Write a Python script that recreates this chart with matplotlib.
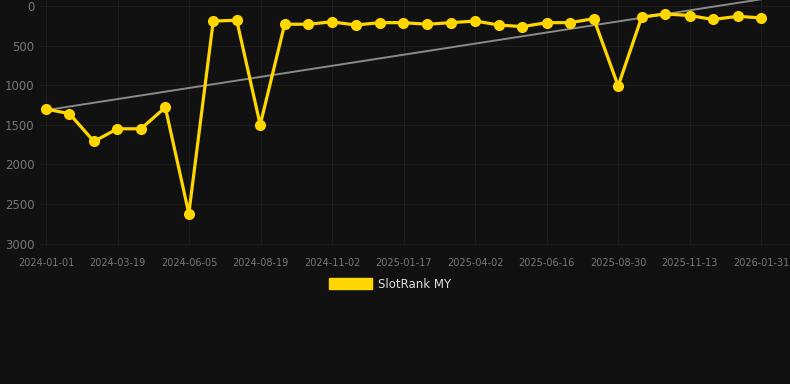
import numpy as np
import pandas as pd
import matplotlib
matplotlib.use('Agg')
import matplotlib.pyplot as plt
import matplotlib.dates as mdates
from matplotlib.patches import Patch

# SlotRank MY rank history (lower is better, axis inverted)
dates = ['2024-01-01', '2024-01-26', '2024-02-21', '2024-03-17', '2024-04-11',
         '2024-05-07', '2024-06-01', '2024-06-27', '2024-07-22', '2024-08-16',
         '2024-09-11', '2024-10-06', '2024-10-31', '2024-11-26', '2024-12-21',
         '2025-01-15', '2025-02-10', '2025-03-07', '2025-04-02', '2025-04-27',
         '2025-05-22', '2025-06-17', '2025-07-12', '2025-08-06', '2025-09-01',
         '2025-09-26', '2025-10-21', '2025-11-16', '2025-12-11', '2026-01-06',
         '2026-01-31']
ranks = [1300, 1360, 1710, 1550, 1550, 1280, 2620, 190, 180, 1500,
         230, 230, 200, 240, 210, 210, 230, 210, 190, 240,
         260, 210, 210, 160, 1010, 140, 100, 120, 170, 130, 150]
# trend line end values (first and last date)
trend = [1315, -85]
tick_labels = ['2024-01-01', '2024-03-19', '2024-06-05', '2024-08-19', '2024-11-02',
               '2025-01-17', '2025-04-02', '2025-06-16', '2025-08-30', '2025-11-13',
               '2026-01-31']
y_ticks = [0, 500, 1000, 1500, 2000, 2500, 3000]
series_name = 'SlotRank MY'

bg = '#111111'
gold = '#FFD700'
txt = '#777777'

x = mdates.date2num(pd.to_datetime(dates))
y = np.array(ranks, dtype=float)

fig = plt.figure(figsize=(7.9, 3.84), dpi=100, facecolor=bg)
ax = fig.add_axes([40 / 790, 1 - 246 / 384, 750 / 790, 246 / 384])
ax.set_facecolor(bg)

ax.plot([x[0], x[-1]], trend, color='#8a8a8a', lw=1.4, zorder=2)
ax.plot(x, y, color=gold, lw=2.3, marker='o', markersize=7, zorder=3)

ticks = np.linspace(x[0], x[-1], len(tick_labels))
ax.set_xticks(ticks)
ax.set_xticklabels(tick_labels, fontsize=7, color=txt)
ax.set_yticks(y_ticks)
ax.set_yticklabels([str(v) for v in y_ticks], fontsize=8.5, color=txt)

span = x[-1] - x[0]
ax.set_xlim(x[0] - span * 6 / 715, x[-1] + span * 29 / 715)
ax.set_ylim(3030, -76)

ax.grid(True, color='#1d1d1d', lw=0.8)
ax.tick_params(length=0, pad=4)
ax.tick_params(axis='x', pad=9)
for s in ax.spines.values():
    s.set_visible(False)

fig.legend(handles=[Patch(color=gold, label=series_name)], loc='center',
           bbox_to_anchor=(390 / 790, 1 - 284 / 384), frameon=False,
           fontsize=8.5, labelcolor='#dddddd', handlelength=3.6, handleheight=1.0,
           handletextpad=0.5)

fig.savefig('out.png', dpi=100, facecolor=bg)
